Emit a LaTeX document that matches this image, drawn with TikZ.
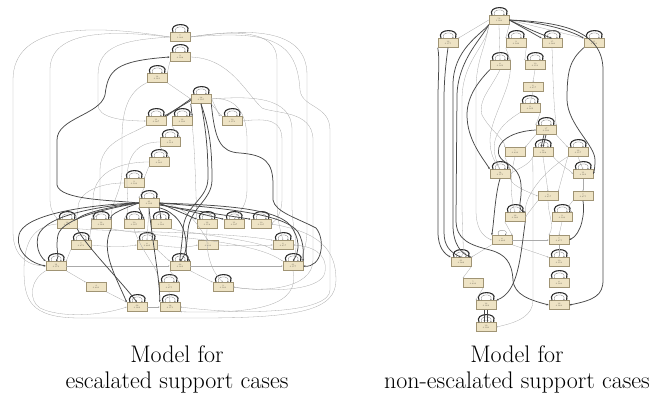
\documentclass[tikz,border=0pt]{standalone}
\usetikzlibrary{arrows.meta}
\definecolor{boxfill}{RGB}{238,227,196}
\definecolor{boxline}{RGB}{160,148,116}
\definecolor{boxtext}{RGB}{90,85,70}
\definecolor{thinline}{RGB}{170,170,170}
\definecolor{thickline}{RGB}{72,72,72}
\definecolor{loopline}{RGB}{45,45,45}
\definecolor{loopinner}{RGB}{120,120,120}

% activity box with two tiny label lines
\newcommand{\mkbox}[5]{\node[box] (#1) at (#2,#3) {#4\\#5};}
% self loop drawn above a box
\newcommand{\mkloop}[1]{%
  \draw[lp] ([xshift=-7pt]#1.north) .. controls +(-5,-10) and +(5,-10) .. ([xshift=7pt]#1.north);
  \draw[lpi] ([xshift=-4.5pt]#1.north) .. controls +(-3,-7) and +(3,-7) .. ([xshift=4.5pt]#1.north);}

\begin{document}
\begin{tikzpicture}[x=1pt,y=-1pt,
  box/.style={draw=boxline, fill=boxfill, line width=0.5pt, minimum width=20pt,
    minimum height=9pt, inner sep=0pt, align=center, text=boxtext,
    font=\fontsize{2}{2.4}\selectfont},
  fe/.style={draw=thinline, line width=0.3pt, -{Stealth[length=1.6pt,width=1.3pt]}},
  he/.style={draw=thickline, line width=0.75pt, -{Stealth[length=2.2pt,width=1.8pt]}},
  lp/.style={draw=loopline, line width=1.1pt, -{Stealth[length=2.2pt,width=2pt]}},
  lpi/.style={draw=loopinner, line width=0.3pt, -{Stealth[length=1.5pt,width=1.3pt]}},
  captext/.style={anchor=base, font=\fontsize{24}{26}\selectfont}]
\useasboundingbox (0,0) rectangle (667,396);

% ---------------- escalated cases ----------------
\mkbox{A1}{180}{37}{7}{1.000}
\mkbox{A2}{180}{57}{9}{0.998}
\mkbox{A3}{157}{78}{14}{0.961}
\mkbox{A4}{201}{99}{38}{0.995}
\mkbox{A5}{156}{121}{11}{0.987}
\mkbox{A6}{182}{121}{12}{0.990}
\mkbox{A7}{232}{121}{10}{0.970}
\mkbox{A8}{170}{142}{8}{0.912}
\mkbox{A9}{159}{162}{6}{0.981}
\mkbox{A10}{134}{183}{9}{0.933}
\mkbox{A11}{149}{203}{41}{0.999}
\mkbox{B1}{67}{224}{16}{0.950}
\mkbox{B2}{101}{224}{13}{0.966}
\mkbox{B3}{134}{224}{10}{0.925}
\mkbox{B4}{161}{224}{9}{0.900}
\mkbox{B5}{207}{224}{12}{0.958}
\mkbox{B6}{234}{224}{11}{0.947}
\mkbox{B7}{261}{224}{10}{0.935}
\mkbox{C1}{81}{245}{7}{0.870}
\mkbox{C2}{147}{245}{8}{0.889}
\mkbox{C3}{208}{245}{5}{0.833}
\mkbox{C4}{283}{245}{6}{0.857}
\mkbox{D1}{56}{266}{19}{0.973}
\mkbox{D2}{180}{266}{23}{0.982}
\mkbox{D3}{293}{266}{21}{0.977}
\mkbox{E1}{96}{287}{4}{0.800}
\mkbox{E2}{169}{287}{7}{0.875}
\mkbox{E3}{223}{287}{9}{0.900}
\mkbox{F1}{137}{307}{26}{0.986}
\mkbox{F2}{170}{307}{18}{0.971}

\foreach \n in {A1,A2,A3,A4,A5,A6,A7,A8,A9,A10,A11,B1,B2,B3,B4,B5,B6,B7,C1,C2,C4,D1,D2,D3,E2,E3,F1,F2} {\mkloop{\n}}

% long thin connectors around the model
\draw[fe] (A1.west) .. controls (90,24) and (13,24) .. (13,80) -- (13,232) .. controls (13,258) and (30,266) .. (D1.west);
\draw[fe] (A1.west) .. controls (110,30) and (50,30) .. (50,70) -- (50,200) .. controls (50,212) and (57,218) .. (B1.north west);
\draw[fe] (A1.west) .. controls (125,40) and (98,45) .. (98,75) -- (98,105) .. controls (98,117) and (120,121) .. (A5.west);
\draw[fe] (A1.east) .. controls (235,30) and (277,30) .. (277,60) -- (277,200) .. controls (277,222) and (281,232) .. (C4.north);
\draw[fe] (A1.east) .. controls (250,28) and (307,28) .. (307,75) -- (307,230) .. controls (307,250) and (300,255) .. (D3.north east);
\draw[fe] (A1.east) .. controls (270,30) and (297,40) .. (300,90) .. controls (302,108) and (330,105) .. (330,130) -- (330,290) .. controls (330,312) and (250,316) .. (F2.east);
\draw[fe] (A2.east) .. controls (230,58) and (245,92) .. (262,108) .. controls (275,114) and (313,110) .. (313,140) -- (313,260) .. controls (313,290) and (260,292) .. (E3.east);
\draw[fe] (A4.east) .. controls (250,96) and (292,96) .. (292,130) -- (292,205) .. controls (292,232) and (300,242) .. (D3.north);
\draw[fe] (A2.south west) -- (A3.north east);
\draw[fe] (A3.south east) -- (A4.west);
\draw[fe] (A3.south west) .. controls (128,92) and (122,110) .. (122,140) -- (122,170) .. controls (122,192) and (110,204) .. (B2.north east);
\draw[fe] (A7.east) .. controls (268,118) and (282,120) .. (282,140) -- (282,198) .. controls (282,214) and (276,220) .. (B7.east);
\draw[fe] (A4.east) .. controls (228,97) and (247,104) .. (247,140) -- (247,190) .. controls (247,205) and (240,212) .. (B6.north);
\draw[fe] (A4.south east) -- (A7.north west);
\draw[fe] ([yshift=1pt]A4.east) -- ([xshift=-2pt]A7.north west);
\draw[fe] (A6.south west) -- (A8.north east);
\draw[fe] (A8.south west) -- (A9.north east);
\draw[fe] (A9.south west) -- (A10.north east);
\draw[fe] (A10.south east) -- (A11.north west);
\draw[fe] (A5.south west) .. controls (128,136) and (100,142) .. (100,170) -- (100,200) .. controls (100,210) and (101,214) .. (B2.north west);
\draw[fe] (A6.south east) .. controls (195,150) and (196,195) .. (B5.north west);
\draw[fe] (A8.west) .. controls (140,142) and (127,152) .. (127,180) .. controls (127,200) and (130,212) .. (B3.north west);
\draw[fe] (A9.west) .. controls (115,162) and (93,175) .. (93,200) .. controls (93,228) and (88,236) .. (C1.north east);
\draw[fe] (A10.west) .. controls (100,183) and (78,192) .. (78,208) .. controls (78,214) and (76,217) .. (B1.north east);
\draw[fe] (A11.east) .. controls (190,205) and (200,230) .. (C3.north);
\draw[fe] (A11.south) -- (C2.north);

% thin connectors among the lower rows
\draw[fe] (D1.east) -- (D2.west);
\draw[fe] (D2.east) -- (D3.west);
\draw[fe] (C1.east) .. controls (110,247) and (125,247) .. (C2.west);
\draw[fe] (C2.east) .. controls (175,248) and (185,248) .. (C3.west);
\draw[fe] (C3.east) .. controls (240,246) and (255,246) .. (C4.west);
\draw[fe] (B1.south east) .. controls (120,232) and (230,232) .. (C4.north west);
\draw[fe] (B2.south east) .. controls (150,237) and (250,238) .. (D3.north west);
\draw[fe] (B4.south east) .. controls (185,233) and (260,240) .. (C4.south west);
\draw[fe] (D1.south east) -- (E1.north west);
\draw[fe] (E1.south east) -- (F1.north west);
\draw[fe] (C1.south west) -- (D1.north east);
\draw[fe] (E2.south) -- (F2.north);
\draw[fe] (D2.south east) -- (E3.north west);
\draw[fe] (C2.south east) -- (D2.north west);
\draw[fe] (D2.south west) -- (E2.north east);
\draw[fe] (F1.east) -- (F2.west);
\draw[fe] (B3.south) .. controls (140,250) and (160,270) .. (E2.north west);
\draw[fe] (B5.south) .. controls (205,260) and (215,275) .. (E3.north);
\draw[fe] (E3.east) .. controls (265,292) and (322,292) .. (325,272) .. controls (328,252) and (310,246) .. (C4.east);
\draw[fe] (D1.south west) .. controls (30,280) and (28,300) .. (40,308) .. controls (60,318) and (100,316) .. (F1.west);
\draw[fe] (D3.south) .. controls (300,305) and (260,314) .. (F2.south east);
\draw[fe] (B1.west) .. controls (35,226) and (24,240) .. (24,270) .. controls (24,300) and (30,318) .. (80,318) -- (200,318) .. controls (300,318) and (336,310) .. (336,280) .. controls (336,250) and (320,232) .. (B7.east);

% thick connectors
\draw[he] (A11.west) .. controls (110,200) and (60,200) .. (57,185) -- (57,140) .. controls (57,118) and (100,115) .. (105,95) .. controls (108,70) and (115,61) .. (A2.west);
\draw[he] (A11.west) .. controls (100,204) and (30,212) .. (20,232) .. controls (14,246) and (25,262) .. (D1.west);
\draw[he] (A11.west) .. controls (100,206) and (45,215) .. (38,236) .. controls (35,250) and (42,258) .. (D1.north west);
\draw[he] (A11.west) .. controls (110,208) and (62,218) .. (58,235) .. controls (55,250) and (60,256) .. (D1.north);
\draw[he] (A11.west) .. controls (120,205) and (85,212) .. (B1.north east);
\draw[he] (A11.west) .. controls (125,208) and (110,214) .. (B2.north east);
\draw[he] (A11.south west) -- (B3.north east);
\draw[he] (A11.south east) -- (B4.north);
\draw[he] (A11.east) -- (B5.north west);
\draw[he] ([yshift=-1pt]A11.east) -- (B6.north west);
\draw[he] ([yshift=-2pt]A11.east) -- (B7.north west);
\draw[he] (A11.east) .. controls (220,205) and (275,208) .. (290,225) .. controls (300,238) and (300,250) .. (D3.north);
\draw[he] (A11.east) .. controls (225,208) and (285,214) .. (298,232) .. controls (305,244) and (303,256) .. (D3.north east);
\draw[he] (A11.south east) .. controls (175,212) and (186,225) .. (186,245) .. controls (186,254) and (183,258) .. (D2.north);
\draw[he] (A4.south) .. controls (206,130) and (208,150) .. (208,178) .. controls (208,200) and (184,205) .. (183,230) .. controls (182,245) and (180,255) .. (D2.north);
\draw[he] (A4.south) .. controls (210,130) and (212,150) .. (212,180) .. controls (212,200) and (190,208) .. (188,230) .. controls (187,245) and (184,255) .. (D2.north east);
\draw[he] (A4.south east) .. controls (215,140) and (220,152) .. (240,153) .. controls (265,155) and (273,162) .. (273,185) -- (273,200) .. controls (275,212) and (297,218) .. (316,228) .. controls (326,240) and (322,268) .. (D3.east);
\draw[he] (A4.west) -- (A5.north east);
\draw[he] ([yshift=-1.5pt]A4.west) -- ([xshift=-2pt]A5.north east);
\draw[he] (A4.south west) -- (A6.north east);
\draw[he] (B2.south east) .. controls (100,250) and (115,275) .. (F1.north west);
\draw[he] (B1.south east) .. controls (85,245) and (120,280) .. (F1.north);
\draw[he] (A11.south) .. controls (152,240) and (160,280) .. (F2.north west);

% ---------------- non-escalated cases ----------------
\mkbox{R1}{499}{20}{52}{1.000}
\mkbox{R2}{448}{43}{12}{0.975}
\mkbox{R3}{516}{43}{9}{0.944}
\mkbox{R4}{552}{43}{15}{0.980}
\mkbox{R5}{594}{43}{11}{0.962}
\mkbox{R6}{500}{65}{8}{0.923}
\mkbox{R7}{535}{65}{10}{0.950}
\mkbox{R8}{533}{87}{6}{0.857}
\mkbox{R9}{530}{108}{9}{0.929}
\mkbox{R10}{546}{130}{17}{0.990}
\mkbox{R11}{515}{152}{5}{0.833}
\mkbox{R12}{543}{152}{13}{0.968}
\mkbox{R13}{578}{152}{12}{0.957}
\mkbox{R14}{500}{174}{14}{0.971}
\mkbox{R15}{583}{174}{11}{0.962}
\mkbox{R16}{548}{196}{6}{0.857}
\mkbox{R17}{583}{196}{7}{0.875}
\mkbox{R18}{515}{217}{16}{0.980}
\mkbox{R19}{562}{217}{9}{0.933}
\mkbox{R20}{502}{240}{8}{0.889}
\mkbox{R21}{559}{240}{7}{0.875}
\mkbox{R22}{461}{262}{21}{0.986}
\mkbox{R23}{559}{262}{10}{0.950}
\mkbox{R24}{473}{283}{5}{0.833}
\mkbox{R25}{559}{283}{8}{0.900}
\mkbox{R26}{486}{305}{13}{0.966}
\mkbox{R27}{559}{305}{12}{0.960}
\mkbox{R28}{486}{327}{19}{0.990}

\foreach \n in {R1,R2,R3,R4,R5,R6,R7,R9,R10,R12,R13,R14,R15,R18,R19,R22,R23,R25,R26,R27,R28} {\mkloop{\n}}
\draw[lpi] ([xshift=-3pt]R20.north) .. controls +(-5,-6.5) and +(5,-6.5) .. ([xshift=3pt]R20.north);

\draw[fe] (R1.west) -- (R2.north east);
\draw[fe] (R1.south east) -- (R3.north west);
\draw[fe] (R1.south) -- (R6.north);
\draw[fe] (R3.south west) -- (R6.north east);
\draw[fe] (R3.south east) -- (R7.north west);
\draw[fe] (R7.south) -- (R8.north);
\draw[fe] (R8.south) -- (R9.north);
\draw[fe] (R9.south east) -- (R10.north west);
\draw[fe] (R10.south west) -- (R11.north east);
\draw[fe] (R10.south east) -- (R13.north west);
\draw[fe] (R13.south) -- (R15.north);
\draw[fe] (R15.south) -- (R17.north);
\draw[fe] (R13.south west) -- (R16.north east);
\draw[fe] (R13.south west) .. controls (545,170) and (525,195) .. (R18.north east);
\draw[fe] (R16.south west) -- (R18.east);
\draw[fe] (R11.south west) -- (R14.north east);
\draw[fe] (R12.south) -- (R16.north);
\draw[fe] (R12.south west) .. controls (530,165) and (515,170) .. (R14.east);
\draw[fe] (R18.south west) -- (R20.north east);
\draw[fe] (R19.south) -- (R21.north);
\draw[fe] (R20.east) -- (R21.west);
\draw[fe] (R20.south west) -- (R22.north east);
\draw[fe] (R20.south east) -- (R23.north west);
\draw[fe] (R21.south) -- (R23.north);
\draw[fe] (R22.south east) -- (R24.north west);
\draw[fe] (R24.south east) -- (R26.north west);
\draw[fe] (R12.south west) .. controls (533,175) and (533,200) .. (533,230) -- (533,300) .. controls (533,315) and (520,322) .. (R28.east);
\draw[fe] (R1.south west) .. controls (485,50) and (476,60) .. (476,90) -- (476,210) .. controls (476,228) and (482,236) .. (R20.west);
\draw[fe] (R1.south west) .. controls (488,45) and (462,60) .. (462,100) -- (462,200) .. controls (462,240) and (465,252) .. (R22.north);
\draw[fe] (R4.south) .. controls (553,70) and (553,100) .. (R10.north east);
\draw[fe] (R6.south east) .. controls (510,90) and (490,120) .. (490,140) .. controls (490,155) and (495,162) .. (R14.north);
\draw[fe] (R6.south) .. controls (490,90) and (478,100) .. (482,115) .. controls (490,130) and (505,140) .. (R11.north west);
\draw[fe] (R9.south west) .. controls (500,125) and (486,140) .. (R14.north);
\draw[fe] (R11.south) .. controls (510,175) and (510,195) .. (R18.north);
\draw[fe] (R16.south) .. controls (548,215) and (555,225) .. (R21.north west);
\draw[fe] (R17.south west) .. controls (570,205) and (565,208) .. (R19.north east);
\draw[fe] (R12.south east) .. controls (560,165) and (570,170) .. (R15.west);
\draw[fe] (R14.south east) .. controls (512,186) and (528,192) .. (R16.west);
\draw[fe] (R1.east) -- (R5.north west);

\draw[he] (R2.south west) .. controls (440,60) and (438,75) .. (438,100) -- (438,232) .. controls (438,248) and (445,254) .. (R22.north west);
\draw[he] (R2.south) .. controls (446,62) and (444,80) .. (444,100) -- (444,232) .. controls (444,246) and (450,252) .. (R22.north);
\draw[he] (R1.south west) .. controls (480,35) and (453,50) .. (453,85) -- (453,225) .. controls (453,245) and (462,254) .. (R22.north east);
\draw[he] (R1.south west) .. controls (482,38) and (458,60) .. (457,95) -- (456,220) .. controls (456,240) and (470,245) .. (490,250) .. controls (505,254) and (512,262) .. (513,280) .. controls (514,295) and (530,300) .. (R27.west);
\draw[he] (R1.east) -- (R4.north west);
\draw[he] (R1.east) .. controls (520,25) and (535,32) .. (R4.north);
\draw[he] (R1.east) .. controls (540,22) and (570,30) .. (R5.north west);
\draw[he] (R1.east) .. controls (560,22) and (603,30) .. (603,70) -- (603,280) .. controls (603,295) and (595,300) .. (R27.east);
\draw[he] (R5.south west) .. controls (570,60) and (567,70) .. (567,100) .. controls (568,125) and (595,145) .. (595,160) .. controls (595,168) and (594,172) .. (R15.east);
\draw[he] (R6.south west) .. controls (480,80) and (467,95) .. (467,115) .. controls (467,140) and (483,158) .. (R14.north west);
\draw[he] (R10.west) .. controls (500,132) and (490,152) .. (505,162) .. controls (520,170) and (522,180) .. (521,195) .. controls (520,205) and (518,210) .. (R18.north east);
\draw[he] (R10.south) -- (R12.north);
\draw[he] ([xshift=-2pt]R10.south) -- ([xshift=-2pt]R12.north);
\draw[he] (R14.south) .. controls (495,195) and (494,222) .. (R20.north west);
\draw[he] (R17.south) .. controls (585,212) and (582,234) .. (R21.east);
\draw[he] (R18.south east) .. controls (520,260) and (518,292) .. (R26.north east);
\draw[he] ([xshift=-1.5pt]R26.south) -- ([xshift=-1.5pt]R28.north);
\draw[he] ([xshift=1.5pt]R26.south) -- ([xshift=1.5pt]R28.north);

% captions
\node[captext] (capL1) at (177,362) {Model for};
\node[captext] (capL2) at (177,388) {escalated support cases};
\node[captext] (capR1) at (517,362) {Model for};
\node[captext] (capR2) at (517,388) {non-escalated support cases};
\end{tikzpicture}
\end{document}
